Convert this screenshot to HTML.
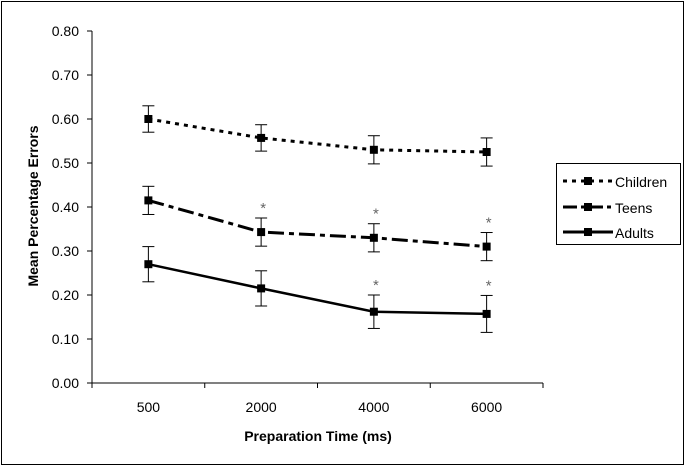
<!DOCTYPE html>
<html><head><meta charset="utf-8"><style>
body{margin:0;background:#fff}
svg{display:block;font-family:"Liberation Sans",Arial,sans-serif}
</style></head><body>
<svg id="c" width="686" height="467">
<rect x="1.5" y="1.5" width="682" height="463" fill="#fff" stroke="#000" stroke-width="1"/>
<g id="axes"></g>
<g id="series"></g>
<text x="318" y="441" font-size="14" font-weight="bold" text-anchor="middle">Preparation Time (ms)</text>
<text transform="translate(38,206) rotate(-90)" font-size="14" font-weight="bold" text-anchor="middle">Mean Percentage Errors</text>
<g>
<rect x="556.5" y="163.5" width="124" height="81" fill="#fff" stroke="#000"/>
<g>
<line x1="563" y1="181" x2="613" y2="181" stroke="#000" stroke-width="3" stroke-dasharray="4,5"/>
<rect x="584" y="177" width="8" height="8"/>
<text x="615" y="187" font-size="14">Children</text></g>
<g>
<line x1="563" y1="207" x2="613" y2="207" stroke="#000" stroke-width="3" stroke-dasharray="14,4,4,4"/>
<rect x="584" y="203" width="8" height="8"/>
<text x="615" y="213" font-size="14">Teens</text></g>
<g>
<line x1="563" y1="232" x2="613" y2="232" stroke="#000" stroke-width="3"/>
<rect x="584" y="228" width="8" height="8"/>
<text x="615" y="238" font-size="14">Adults</text></g>
</g>
</svg>
<script>
const categories=["500","2000","4000","6000"];
const yTicks=[0,0.1,0.2,0.3,0.4,0.5,0.6,0.7,0.8];
const children=[0.60,0.557,0.53,0.525];
const childrenErr=[0.03,0.03,0.032,0.032];
const teens=[0.415,0.343,0.33,0.31];
const teensErr=[0.032,0.032,0.032,0.032];
const adults=[0.27,0.215,0.162,0.157];
const adultsErr=[0.04,0.04,0.038,0.042];
const teensSig=[false,true,true,true];
const adultsSig=[false,false,true,true];

const NS="http://www.w3.org/2000/svg";
const X0=92,X1=543,Y0=383,Y1=31;
const xs=i=>X0+(X1-X0)*(i+0.5)/categories.length;
const ys=v=>Y0-(Y0-Y1)*v/0.8;
function mk(tag,attrs,parent){const e=document.createElementNS(NS,tag);for(const k in attrs)e.setAttribute(k,attrs[k]);parent.appendChild(e);return e;}
const ax=document.getElementById('axes');
let l=mk('line',{x1:X0,y1:Y1,x2:X0,y2:Y0,stroke:'#000'},ax);


l=mk('line',{x1:X0,y1:Y0,x2:X1,y2:Y0,stroke:'#000'},ax);


yTicks.forEach(v=>{
  mk('line',{x1:X0-5,y1:ys(v),x2:X0,y2:ys(v),stroke:'#000'},ax);
  const t=mk('text',{x:X0-13,y:ys(v)+5,'font-size':14,'text-anchor':'end'},ax);
  t.textContent=v.toFixed(2);
  
  
});
for(let i=0;i<=categories.length;i++){const x=X0+(X1-X0)*i/categories.length;mk('line',{x1:x,y1:Y0,x2:x,y2:Y0+5,stroke:'#000'},ax);}
categories.forEach((c,i)=>{
  const t=mk('text',{x:xs(i),y:Y0+29,'font-size':14,'text-anchor':'middle'},ax);
  t.textContent=c;
  
  
});
const sg=document.getElementById('series');
function series(name,vals,errs,dash,sig){
  const g=mk('g',{},sg);
  
  
  const p=mk('polyline',{points:vals.map((v,i)=>xs(i)+','+ys(v)).join(' '),fill:'none',stroke:'#000','stroke-width':dash?3:2.5},g);
  if(dash)p.setAttribute('stroke-dasharray',dash);
  vals.forEach((v,i)=>{
    const x=xs(i),a=ys(v+errs[i]),b=ys(v-errs[i]);
    mk('line',{x1:x,y1:a,x2:x,y2:b,stroke:'#000'},g);
    mk('line',{x1:x-6,y1:a,x2:x+6,y2:a,stroke:'#000'},g);
    mk('line',{x1:x-6,y1:b,x2:x+6,y2:b,stroke:'#000'},g);
    const r=mk('rect',{x:x-4,y:ys(v)-4,width:8,height:8},g);
    
    
    if(sig&&sig[i]){const s=mk('text',{x:x+2,y:a-5,'font-size':15,fill:'#666','text-anchor':'middle'},g);s.textContent='*';
      
      }
  });
}
series('children',children,childrenErr,'4,5',null);
series('teens',teens,teensErr,'16,5,5,5',teensSig);
series('adults',adults,adultsErr,null,adultsSig);
</script>
</body></html>
